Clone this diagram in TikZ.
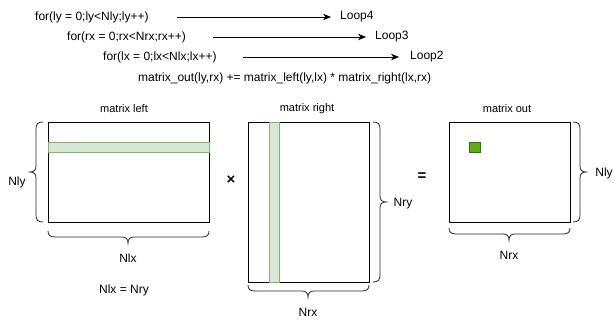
\documentclass[tikz,border=0pt]{standalone}
\usepackage{fontspec}
\setmainfont{Liberation Sans}
\usetikzlibrary{arrows.meta}

\tikzset{
  code/.style={anchor=west, inner sep=0pt, font=\fontsize{12}{14}\selectfont},
  lbl/.style={inner sep=0pt, font=\fontsize{12}{14}\selectfont},
  title/.style={inner sep=0pt, font=\fontsize{11}{13}\selectfont},
  op/.style={inner sep=0pt, font=\bfseries\fontsize{15}{17}\selectfont},
  loopArrow/.style={draw=black, line width=0.8pt, -{Stealth[length=8pt,width=6.5pt,inset=2.5pt]}},
  mat/.style={draw=black, line width=0.8pt, fill=white, anchor=north west, inner sep=0pt, outer sep=0pt},
  band/.style={draw=green!40!gray!70!black, fill=green!15!white, line width=0.8pt, anchor=north west, inner sep=0pt},
  cell/.style={draw=green!45!black, fill=green!55!black!80!yellow, line width=0.8pt, anchor=north west, inner sep=0pt},
  brace/.style={draw=black!85, line width=0.8pt},
}
\definecolor{bandfill}{HTML}{D5E8D4}
\definecolor{banddraw}{HTML}{82B366}
\definecolor{cellfill}{HTML}{60A917}
\definecolor{celldraw}{HTML}{2D7600}

\begin{document}
\begin{tikzpicture}[x=1pt,y=-1pt]
  \useasboundingbox (0,0) rectangle (613,320);

  % loop nest
  \node[code] (for1) at (35,17) {for(ly = 0;ly<Nly;ly++)};
  \node[code] (for2) at (67,37) {for(rx = 0;rx<Nrx;rx++)};
  \node[code] (for3) at (103,57) {for(lx = 0;lx<Nlx;lx++)};
  \node[code] (body) at (138,78) {matrix\_out(ly,rx) += matrix\_left(ly,lx) * matrix\_right(lx,rx)};

  \node[code] (loop4) at (340,17) {Loop4};
  \node[code] (loop3) at (375,37) {Loop3};
  \node[code] (loop2) at (410,57) {Loop2};

  \draw[loopArrow, shorten <=28pt, shorten >=9pt] (for1.east) -- (loop4.west);
  \draw[loopArrow, shorten <=27pt, shorten >=9pt] (for2.east) -- (loop3.west);
  \draw[loopArrow, shorten <=26pt, shorten >=11pt] (for3.east) -- (loop2.west);

  % left matrix
  \node[title] (tl) at (124,109) {matrix left};
  \node[mat, minimum width=161pt, minimum height=100pt] (L) at (48,122) {};
  \node[band, draw=banddraw, fill=bandfill, minimum width=161pt, minimum height=10pt] (Lrow) at (48,142) {};
  \draw[brace] (43,122) .. controls (38,122) and (36,124) .. (36,129) -- (36,166)
    .. controls (36,170) and (34,172) .. (30,172)
    .. controls (34,172) and (36,174) .. (36,178) -- (36,215)
    .. controls (36,220) and (38,222) .. (43,222);
  \node[lbl] (nly1) at (17,182) {Nly};
  \draw[brace] (48,231) .. controls (48,235) and (50,237) .. (55,237) -- (122,237)
    .. controls (126,237) and (128,239) .. (128,243)
    .. controls (128,239) and (130,237) .. (134,237) -- (202,237)
    .. controls (207,237) and (209,235) .. (209,231);
  \node[lbl] (nlx) at (128,258) {Nlx};
  \node[lbl] (eq) at (124,290) {Nlx = Nry};

  % times sign
  \node[op] (times) at (231,180) {×};

  % right matrix
  \node[title] (tr) at (307,109) {matrix right};
  \node[mat, minimum width=121pt, minimum height=160pt] (R) at (248,122) {};
  \node[band, draw=banddraw, fill=bandfill, minimum width=10pt, minimum height=160pt] (Rcol) at (269,122) {};
  \draw[brace] (373,122) .. controls (378,122) and (380,124) .. (380,129) -- (380,196)
    .. controls (380,200) and (382,202) .. (386,202)
    .. controls (382,202) and (380,204) .. (380,208) -- (380,275)
    .. controls (380,280) and (378,282) .. (373,282);
  \node[lbl] (nry) at (403,204) {Nry};
  \draw[brace] (248,285) .. controls (248,289) and (250,291) .. (255,291) -- (302,291)
    .. controls (306,291) and (308,293) .. (308,297)
    .. controls (308,293) and (310,291) .. (314,291) -- (362,291)
    .. controls (367,291) and (369,289) .. (369,285);
  \node[lbl] (nrx1) at (308,312) {Nrx};

  % equals sign
  \node[op] (equals) at (422,177) {=};

  % output matrix
  \node[title] (to) at (507,109) {matrix out};
  \node[mat, minimum width=121pt, minimum height=100pt] (O) at (449,122) {};
  \node[cell, draw=celldraw, fill=cellfill, minimum width=11pt, minimum height=10pt] (Ocell) at (469,142) {};
  \draw[brace] (573,122) .. controls (578,122) and (580,124) .. (580,129) -- (580,166)
    .. controls (580,170) and (582,172) .. (586,172)
    .. controls (582,172) and (580,174) .. (580,178) -- (580,215)
    .. controls (580,220) and (578,222) .. (573,222);
  \node[lbl] (nly2) at (604,173) {Nly};
  \draw[brace] (449,228) .. controls (449,232) and (451,234) .. (456,234) -- (503,234)
    .. controls (507,234) and (509,236) .. (509,240)
    .. controls (509,236) and (511,234) .. (515,234) -- (563,234)
    .. controls (568,234) and (570,232) .. (570,228);
  \node[lbl] (nrx2) at (509,255) {Nrx};
\end{tikzpicture}
\end{document}
